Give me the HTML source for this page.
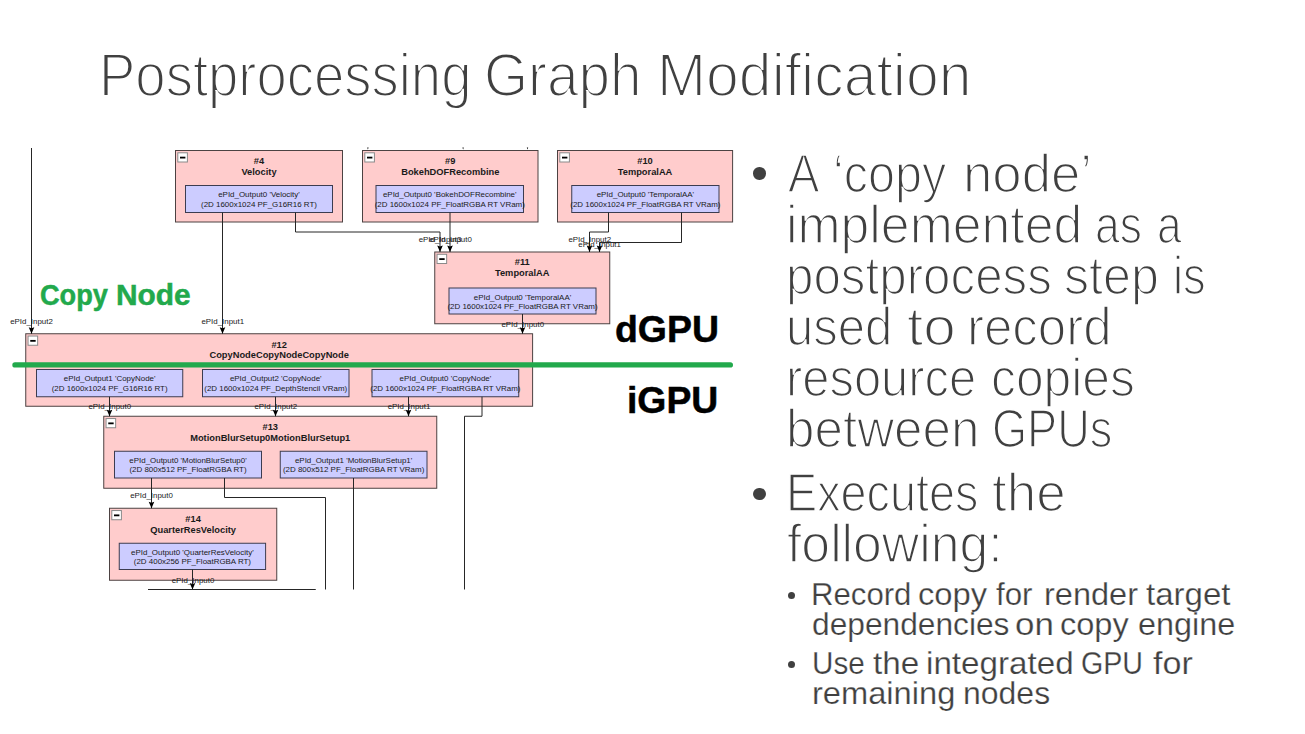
<!DOCTYPE html>
<html lang="en">
<head>
<meta charset="utf-8">
<title>Postprocessing Graph Modification</title>
<style>
html,body{margin:0;padding:0;background:#fff;}
body{width:1305px;height:734px;position:relative;overflow:hidden;font-family:"Liberation Sans",sans-serif;color:#404040;}
.slide{position:absolute;left:0;top:0;width:1305px;height:734px;overflow:hidden;background:#fff;}
.row{position:absolute;left:0;width:1305px;height:0;margin:0;padding:0;line-height:1;font-weight:normal;color:#404040;white-space:nowrap;}
.ln{position:absolute;top:0;white-space:nowrap;transform-origin:0 0;line-height:1;}
.ttl{-webkit-text-stroke:2px #fff;}
.big{-webkit-text-stroke:1.7px #fff;}
.sub{-webkit-text-stroke:0.25px #fff;}
.tag{font-weight:bold;-webkit-text-stroke:0.5px currentColor;}
.copy{color:#22a94c;}
.dgpu,.igpu{color:#000;}
.dot{position:absolute;border-radius:50%;background:#404040;}
svg.graph{position:absolute;left:0;top:0;}
svg .outer{fill:#ffcccc;stroke:#4c4242;stroke-width:1;}
svg .inner{fill:#ccccff;stroke:#3c3c50;stroke-width:1;}
svg .tog{fill:#fff;stroke:#8a8a8a;stroke-width:1;}
svg .minus{fill:#000;}
svg text{font-family:"Liberation Sans",sans-serif;text-anchor:middle;fill:#1a1a1a;}
svg .nm{font-weight:bold;font-size:9.3px;}
svg .pin{font-size:7.95px;}
svg .lbl{font-size:7.9px;}
svg .edge{fill:none;stroke:#262626;stroke-width:1;}
svg .arr{fill:#000;stroke:none;}
svg .green{fill:none;stroke:#22a94c;stroke-width:5.4;stroke-linecap:round;}
</style>
</head>
<body>
<div class="slide">
<h1 class="row ttl" id="t0" style="top:44.66px;font-size:61px"><span class="ln" id="t0w0" style="left:99.40px;transform:scaleX(0.8931)">Postprocessing</span> <span class="ln" id="t0w1" style="left:484.20px;transform:scaleX(0.9298)">Graph</span> <span class="ln" id="t0w2" style="left:656.80px;transform:scaleX(0.9660)">Modification</span></h1>
<svg class="graph" width="1305" height="734" viewBox="0 0 1305 734">
<g class="node">
<rect class="outer" x="175.5" y="150.5" width="167.0" height="71.5"/>
<rect class="tog" x="177.80" y="152.80" width="9.6" height="9.2"/><rect class="minus" x="180.00" y="156.70" width="5.4" height="1.8"/>
<text class="nm" x="259.0" y="163.80">#4</text>
<text class="nm" x="259.0" y="174.80">Velocity</text>
<rect class="inner" x="185.5" y="185.5" width="147.0" height="27.0"/>
<text class="pin" x="259.0" y="197.1">ePId_Output0 &#39;Velocity&#39;</text>
<text class="pin" x="259.0" y="206.65">(2D 1600x1024 PF_G16R16 RT)</text>
</g>
<g class="node">
<rect class="outer" x="362.5" y="150.5" width="175.5" height="71.5"/>
<rect class="tog" x="364.80" y="152.80" width="9.6" height="9.2"/><rect class="minus" x="367.00" y="156.70" width="5.4" height="1.8"/>
<text class="nm" x="450.25" y="163.80">#9</text>
<text class="nm" x="450.25" y="174.80">BokehDOFRecombine</text>
<rect class="inner" x="376" y="185.5" width="147.5" height="27.0"/>
<text class="pin" x="449.75" y="197.1">ePId_Output0 &#39;BokehDOFRecombine&#39;</text>
<text class="pin" x="449.75" y="206.65">(2D 1600x1024 PF_FloatRGBA RT VRam)</text>
</g>
<g class="node">
<rect class="outer" x="557.5" y="150.5" width="175.10000000000002" height="71.5"/>
<rect class="tog" x="559.80" y="152.80" width="9.6" height="9.2"/><rect class="minus" x="562.00" y="156.70" width="5.4" height="1.8"/>
<text class="nm" x="645.05" y="163.80">#10</text>
<text class="nm" x="645.05" y="174.80">TemporalAA</text>
<rect class="inner" x="571.75" y="185.5" width="147.25" height="27.0"/>
<text class="pin" x="645.375" y="197.1">ePId_Output0 &#39;TemporalAA&#39;</text>
<text class="pin" x="645.375" y="206.65">(2D 1600x1024 PF_FloatRGBA RT VRam)</text>
</g>
<g class="node">
<rect class="outer" x="434.75" y="252" width="175.0" height="71.75"/>
<rect class="tog" x="437.05" y="254.30" width="9.6" height="9.2"/><rect class="minus" x="439.25" y="258.20" width="5.4" height="1.8"/>
<text class="nm" x="522.25" y="265.30">#11</text>
<text class="nm" x="522.25" y="276.30">TemporalAA</text>
<rect class="inner" x="449" y="288" width="147" height="26"/>
<text class="pin" x="522.5" y="299.6">ePId_Output0 &#39;TemporalAA&#39;</text>
<text class="pin" x="522.5" y="309.15">(2D 1600x1024 PF_FloatRGBA RT VRam)</text>
</g>
<g class="node">
<rect class="outer" x="25.75" y="333.75" width="506.85" height="72.5"/>
<rect class="tog" x="28.05" y="336.05" width="9.6" height="9.2"/><rect class="minus" x="30.25" y="339.95" width="5.4" height="1.8"/>
<text class="nm" x="279.175" y="347.95">#12</text>
<text class="nm" x="279.175" y="358.35">CopyNodeCopyNodeCopyNode</text>
<rect class="inner" x="36.5" y="369.5" width="146.25" height="27.25"/>
<text class="pin" x="109.625" y="381.1">ePId_Output1 &#39;CopyNode&#39;</text>
<text class="pin" x="109.625" y="390.65">(2D 1600x1024 PF_G16R16 RT)</text>
<rect class="inner" x="202.5" y="369.5" width="146.5" height="27.25"/>
<text class="pin" x="275.75" y="381.1">ePId_Output2 &#39;CopyNode&#39;</text>
<text class="pin" x="275.75" y="390.65">(2D 1600x1024 PF_DepthStencil VRam)</text>
<rect class="inner" x="372" y="369.5" width="146.75" height="27.25"/>
<text class="pin" x="445.375" y="381.1">ePId_Output0 &#39;CopyNode&#39;</text>
<text class="pin" x="445.375" y="390.65">(2D 1600x1024 PF_FloatRGBA RT VRam)</text>
</g>
<g class="node">
<rect class="outer" x="103.75" y="416.25" width="333.0" height="72.0"/>
<rect class="tog" x="106.05" y="418.55" width="9.6" height="9.2"/><rect class="minus" x="108.25" y="422.45" width="5.4" height="1.8"/>
<text class="nm" x="270.25" y="429.55">#13</text>
<text class="nm" x="270.25" y="440.55">MotionBlurSetup0MotionBlurSetup1</text>
<rect class="inner" x="114.5" y="451.25" width="147.0" height="26.75"/>
<text class="pin" x="188.0" y="462.85">ePId_Output0 &#39;MotionBlurSetup0&#39;</text>
<text class="pin" x="188.0" y="472.40">(2D 800x512 PF_FloatRGBA RT)</text>
<rect class="inner" x="280.25" y="451.25" width="146.75" height="26.75"/>
<text class="pin" x="353.625" y="462.85">ePId_Output1 &#39;MotionBlurSetup1&#39;</text>
<text class="pin" x="353.625" y="472.40">(2D 800x512 PF_FloatRGBA RT VRam)</text>
</g>
<g class="node">
<rect class="outer" x="109.5" y="508.25" width="167.25" height="72.0"/>
<rect class="tog" x="111.80" y="510.55" width="9.6" height="9.2"/><rect class="minus" x="114.00" y="514.45" width="5.4" height="1.8"/>
<text class="nm" x="193.125" y="521.55">#14</text>
<text class="nm" x="193.125" y="532.55">QuarterResVelocity</text>
<rect class="inner" x="119.25" y="543.25" width="146.35000000000002" height="26.25"/>
<text class="pin" x="192.425" y="554.85">ePId_Output0 &#39;QuarterResVelocity&#39;</text>
<text class="pin" x="192.425" y="564.40">(2D 400x256 PF_FloatRGBA RT)</text>
</g>
<path class="edge" d="M31.5 148 L31.5 333.75"/>
<path class="arr" d="M31.5 333.75 L28.7 327.15 L31.5 328.35 L34.3 327.15 Z"/>
<text class="lbl" x="31.5" y="323.65">ePId_Input2</text>
<path class="edge" d="M222.5 212.5 L222.5 333.75"/>
<path class="arr" d="M222.5 333.75 L219.7 327.15 L222.5 328.35 L225.3 327.15 Z"/>
<text class="lbl" x="222.75" y="323.65">ePId_Input1</text>
<path class="edge" d="M295.5 212.5 L295.5 232 L440 232 L440 252"/>
<path class="arr" d="M440 252 L437.2 245.4 L440 246.6 L442.8 245.4 Z"/>
<text class="lbl" x="440" y="241.90">ePId_Input3</text>
<path class="edge" d="M450 212.5 L450 252"/>
<path class="arr" d="M450 252 L447.2 245.4 L450 246.6 L452.8 245.4 Z"/>
<text class="lbl" x="450.5" y="241.90">ePId_Input0</text>
<path class="edge" d="M608.5 212.5 L608.5 232 L589.5 232 L589.5 252"/>
<path class="arr" d="M589.5 252 L586.7 245.4 L589.5 246.6 L592.3 245.4 Z"/>
<text class="lbl" x="589.75" y="241.90">ePId_Input2</text>
<path class="edge" d="M681.5 212.5 L681.5 242.5 L599.5 242.5 L599.5 252"/>
<path class="arr" d="M599.5 252 L596.7 245.4 L599.5 246.6 L602.3 245.4 Z"/>
<text class="lbl" x="599.6" y="246.90">ePId_Input1</text>
<path class="edge" d="M522.5 314 L522.5 333.75"/>
<path class="arr" d="M522.5 333.75 L519.7 327.15 L522.5 328.35 L525.3 327.15 Z"/>
<text class="lbl" x="522.75" y="326.90">ePId_Input0</text>
<path class="edge" d="M109.5 396.75 L109.5 416.25"/>
<path class="arr" d="M109.5 416.25 L106.7 409.65 L109.5 410.85 L112.3 409.65 Z"/>
<text class="lbl" x="109.75" y="408.90">ePId_Input0</text>
<path class="edge" d="M275.5 396.75 L275.5 416.25"/>
<path class="arr" d="M275.5 416.25 L272.7 409.65 L275.5 410.85 L278.3 409.65 Z"/>
<text class="lbl" x="275.75" y="408.90">ePId_Input2</text>
<path class="edge" d="M408.5 396.75 L408.5 416.25"/>
<path class="arr" d="M408.5 416.25 L405.7 409.65 L408.5 410.85 L411.3 409.65 Z"/>
<text class="lbl" x="409" y="408.90">ePId_Input1</text>
<path class="edge" d="M482 396.75 L482 416.25 L464.5 416.25 L464.5 589.5"/>
<path class="edge" d="M151.5 478 L151.5 508.25"/>
<path class="arr" d="M151.5 508.25 L148.7 501.65 L151.5 502.85 L154.3 501.65 Z"/>
<text class="lbl" x="151.5" y="497.65">ePId_Input0</text>
<path class="edge" d="M224.5 478 L224.5 497.5 L325.5 497.5 L325.5 589.5"/>
<path class="edge" d="M353.5 478 L353.5 589.5"/>
<path class="edge" d="M192.5 569.5 L192.5 589.5"/>
<path class="arr" d="M192.5 589.5 L189.7 582.9 L192.5 584.1 L195.3 582.9 Z"/>
<text class="lbl" x="193" y="582.65">ePId_Input0</text>
<path class="edge" d="M148 589.5 L315.75 589.5"/>
<path class="arr" d="M367.2 147.6h1.4l-.7 2z M462.4 147.6h1.4l-.7 2z M526.8 147.6h1.4l-.7 2z"/>
<path class="green" d="M15 364.9 L730.3 364.9"/>
</svg>
<div class="row tag copy" id="g1" style="top:280.09px;font-size:29.9px"><span class="ln" id="g1w0" style="left:39.80px;transform:scaleX(0.9084)">Copy</span> <span class="ln" id="g1w1" style="left:115.60px;transform:scaleX(0.9987)">Node</span></div>
<div class="row tag dgpu" id="g2" style="top:311.36px;font-size:37.85px"><span class="ln" id="g2w0" style="left:615.00px;transform:scaleX(0.9893)">dGPU</span></div>
<div class="row tag igpu" id="g3" style="top:382.26px;font-size:37.85px"><span class="ln" id="g3w0" style="left:626.60px;transform:scaleX(0.9864)">iGPU</span></div>
<div class="dot" style="left:753px;top:167px;width:12.5px;height:12.5px"></div>
<p class="row big" id="b1" style="top:145.59px;font-size:54px"><span class="ln" id="b1w0" style="left:788.00px;transform:scaleX(0.8717)">A</span> <span class="ln" id="b1w1" style="left:833.00px;transform:scaleX(0.8975)">‘copy</span> <span class="ln" id="b1w2" style="left:962.60px;transform:scaleX(0.9765)">node’</span></p>
<p class="row big" id="b2" style="top:196.69px;font-size:54px"><span class="ln" id="b2w0" style="left:786.00px;transform:scaleX(0.9581)">implemented</span> <span class="ln" id="b2w1" style="left:1095.00px;transform:scaleX(0.8235)">as</span> <span class="ln" id="b2w2" style="left:1157.00px;transform:scaleX(0.8181)">a</span></p>
<p class="row big" id="b3" style="top:247.79px;font-size:54px"><span class="ln" id="b3w0" style="left:786.00px;transform:scaleX(0.9134)">postprocess</span> <span class="ln" id="b3w1" style="left:1064.40px;transform:scaleX(0.9301)">step</span> <span class="ln" id="b3w2" style="left:1173.00px;transform:scaleX(0.8387)">is</span></p>
<p class="row big" id="b4" style="top:298.89px;font-size:54px"><span class="ln" id="b4w0" style="left:786.00px;transform:scaleX(0.9083)">used</span> <span class="ln" id="b4w1" style="left:907.20px;transform:scaleX(1.0825)">to</span> <span class="ln" id="b4w2" style="left:967.40px;transform:scaleX(0.9445)">record</span></p>
<p class="row big" id="b5" style="top:349.99px;font-size:54px"><span class="ln" id="b5w0" style="left:786.00px;transform:scaleX(0.9054)">resource</span> <span class="ln" id="b5w1" style="left:991.20px;transform:scaleX(0.9223)">copies</span></p>
<p class="row big" id="b6" style="top:401.09px;font-size:54px"><span class="ln" id="b6w0" style="left:786.00px;transform:scaleX(0.9475)">between</span> <span class="ln" id="b6w1" style="left:992.00px;transform:scaleX(0.8358)">GPUs</span></p>
<div class="dot" style="left:753px;top:487.5px;width:12.5px;height:12.5px"></div>
<p class="row big" id="b7" style="top:465.09px;font-size:54px"><span class="ln" id="b7w0" style="left:786.00px;transform:scaleX(0.8659)">Executes</span> <span class="ln" id="b7w1" style="left:991.80px;transform:scaleX(0.9816)">the</span></p>
<p class="row big" id="b8" style="top:516.34px;font-size:54px"><span class="ln" id="b8w0" style="left:787.00px;transform:scaleX(0.9576)">following:</span></p>
<div class="dot" style="left:788.2px;top:592px;width:7.2px;height:7.2px"></div>
<p class="row sub" id="s1" style="top:579.38px;font-size:30.5px"><span class="ln" id="s1w0" style="left:810.80px;transform:scaleX(1.0214)">Record</span> <span class="ln" id="s1w1" style="left:917.60px;transform:scaleX(1.0734)">copy</span> <span class="ln" id="s1w2" style="left:995.60px;transform:scaleX(1.0268)">for</span> <span class="ln" id="s1w3" style="left:1044.00px;transform:scaleX(1.0664)">render</span> <span class="ln" id="s1w4" style="left:1145.60px;transform:scaleX(1.0832)">target</span></p>
<p class="row sub" id="s2" style="top:609.08px;font-size:30.5px"><span class="ln" id="s2w0" style="left:812.00px;transform:scaleX(1.0394)">dependencies</span> <span class="ln" id="s2w1" style="left:1014.80px;transform:scaleX(1.1459)">on</span> <span class="ln" id="s2w2" style="left:1060.00px;transform:scaleX(1.0670)">copy</span> <span class="ln" id="s2w3" style="left:1138.40px;transform:scaleX(1.0607)">engine</span></p>
<div class="dot" style="left:788.2px;top:661.2px;width:7.2px;height:7.2px"></div>
<p class="row sub" id="s3" style="top:648.48px;font-size:30.5px"><span class="ln" id="s3w0" style="left:811.80px;transform:scaleX(0.9726)">Use</span> <span class="ln" id="s3w1" style="left:872.80px;transform:scaleX(1.0888)">the</span> <span class="ln" id="s3w2" style="left:926.40px;transform:scaleX(1.0886)">integrated</span> <span class="ln" id="s3w3" style="left:1080.80px;transform:scaleX(0.9388)">GPU</span> <span class="ln" id="s3w4" style="left:1152.60px;transform:scaleX(1.1176)">for</span></p>
<p class="row sub" id="s4" style="top:677.98px;font-size:30.5px"><span class="ln" id="s4w0" style="left:811.80px;transform:scaleX(1.0700)">remaining</span> <span class="ln" id="s4w1" style="left:962.60px;transform:scaleX(1.0483)">nodes</span></p>
</div>
</body>
</html>
